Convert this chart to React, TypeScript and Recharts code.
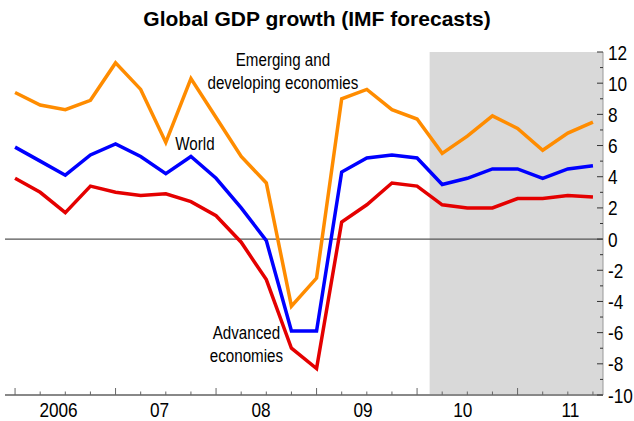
import {
  LineChart,
  Line,
  XAxis,
  YAxis,
  ReferenceArea,
  ReferenceLine,
  ReferenceDot,
} from "recharts";

// Quarterly GDP growth, annualised %, 2006 Q1 - 2011 Q4
const quarters = [
  "06Q1", "06Q2", "06Q3", "06Q4",
  "07Q1", "07Q2", "07Q3", "07Q4",
  "08Q1", "08Q2", "08Q3", "08Q4",
  "09Q1", "09Q2", "09Q3", "09Q4",
  "10Q1", "10Q2", "10Q3", "10Q4",
  "11Q1", "11Q2", "11Q3", "11Q4",
];
const emerging = [
  9.4, 8.6, 8.3, 8.9, 11.3, 9.6, 6.2, 10.3, 7.8, 5.3, 3.6, -4.3,
  -2.5, 9.0, 9.6, 8.3, 7.7, 5.5, 6.6, 7.9, 7.1, 5.7, 6.8, 7.5,
];
const world = [
  5.9, 5.0, 4.1, 5.4, 6.1, 5.3, 4.2, 5.3, 3.9, 2.0, -0.1, -5.9,
  -5.9, 4.3, 5.2, 5.4, 5.2, 3.5, 3.9, 4.5, 4.5, 3.9, 4.5, 4.7,
];
const advanced = [
  3.9, 3.0, 1.7, 3.4, 3.0, 2.8, 2.9, 2.4, 1.5, -0.2, -2.6, -7.0,
  -8.3, 1.1, 2.2, 3.6, 3.4, 2.2, 2.0, 2.0, 2.6, 2.6, 2.8, 2.7,
];

// forecast period starts between 10Q1 and 10Q2
const forecastFrom = 16.5;

const years = ["2006", "07", "08", "09", "10", "11"];
const yearTickAt = [1.73, 5.75, 9.79, 13.85, 17.82, 22.1];
const yTicks = [-10, -9, -8, -7, -6, -5, -4, -3, -2, -1, 0, 1, 2, 3, 4, 5, 6, 7, 8, 9, 10, 11, 12];

const data = quarters.map((q, i) => ({
  i,
  q,
  emerging: emerging[i],
  world: world[i],
  advanced: advanced[i],
}));

const quarterTicks = quarters.map((_, i) => i);

const FONT = "'Liberation Sans', Arial, sans-serif";

function NarrowText({ x, y, size, anchor, children }: any) {
  return (
    <text
      transform={`translate(${x},${y}) scale(0.82,1)`}
      textAnchor={anchor}
      fontFamily={FONT}
      fontSize={size}
      fill="#000"
    >
      {children}
    </text>
  );
}

function XTick({ x, y, payload }: any) {
  const v = payload.value;
  const yi = yearTickAt.indexOf(v);
  if (yi >= 0) {
    return (
      <NarrowText x={x} y={y + 22} size={21} anchor="middle">
        {years[yi]}
      </NarrowText>
    );
  }
  const len = v % 4 === 0 ? 7 : 3.5;
  return <line x1={x} x2={x} y1={y} y2={y - len} stroke="#666" strokeWidth={1} />;
}

function LeftTick({ x, y, payload }: any) {
  const len = payload.value % 2 === 0 ? 7 : 4;
  return <line x1={x} x2={x + len} y1={y} y2={y} stroke="#333" strokeWidth={1} />;
}

function RightTick({ x, y, payload }: any) {
  const even = payload.value % 2 === 0;
  const len = even ? 6 : 3;
  return (
    <g>
      <line x1={x - len} x2={x} y1={y} y2={y} stroke="#333" strokeWidth={1} />
      {even && (
        <NarrowText x={x + 5} y={y + 7.5} size={21} anchor="start">
          {payload.value}
        </NarrowText>
      )}
    </g>
  );
}

// series annotations, anchored at the baseline of the first line
const notes = [
  { lines: ["Emerging and", "developing economies"], x: 10.66, y: 11.1 },
  { lines: ["World"], x: 7.16, y: 5.72 },
  { lines: ["Advanced", "economies"], x: 9.21, y: -6.41 },
];

function noteLabel(lines: string[]) {
  return (props: any) => {
    const vb = props.viewBox;
    const cx = vb.x + vb.width / 2;
    const cy = vb.y + vb.height / 2;
    return (
      <g>
        {lines.map((t, k) => (
          <NarrowText key={t} x={cx} y={cy + k * 23} size={18.5} anchor="middle">
            {t}
          </NarrowText>
        ))}
      </g>
    );
  };
}

export default function App() {
  return (
    <div style={{ position: "absolute", left: 0, top: 0, width: 634, height: 421, background: "#fff" }}>
      <div
        style={{
          position: "absolute",
          left: 0,
          top: 8,
          width: 634,
          textAlign: "center",
          fontFamily: FONT,
          fontWeight: "bold",
          fontSize: 21,
          lineHeight: "21px",
          color: "#000",
        }}
      >
        Global GDP growth (IMF forecasts)
      </div>
      <LineChart
        width={634}
        height={421}
        data={data}
        margin={{ top: 52, right: 0, left: 0, bottom: 0 }}
      >
        <XAxis
          dataKey="i"
          type="number"
          domain={[-0.4, 23.4]}
          ticks={[...quarterTicks, ...yearTickAt]}
          interval={0}
          height={26}
          tickSize={0}
          tickMargin={0}
          axisLine={{ stroke: "#888", strokeWidth: 2 }}
          tickLine={false}
          tick={<XTick />}
        />
        <YAxis
          yAxisId="left"
          orientation="left"
          width={5}
          domain={[-10, 12]}
          ticks={yTicks}
          interval={0}
          tickSize={0}
          tickMargin={0}
          axisLine={false}
          tickLine={false}
          tick={<LeftTick />}
        />
        <YAxis
          yAxisId="right"
          orientation="right"
          width={31}
          domain={[-10, 12]}
          ticks={yTicks}
          interval={0}
          tickSize={0}
          tickMargin={0}
          axisLine={{ stroke: "#999", strokeWidth: 1 }}
          tickLine={false}
          tick={<RightTick />}
        />
        <ReferenceArea
          yAxisId="right"
          x1={forecastFrom}
          x2={23.4}
          y1={-10}
          y2={12}
          fill="#d9d9d9"
          fillOpacity={1}
          stroke="none"
        />
        <ReferenceLine yAxisId="right" y={0} stroke="#555" strokeWidth={1.2} />
        <Line
          yAxisId="right"
          dataKey="emerging"
          type="linear"
          stroke="#ff8c00"
          strokeWidth={3.5}
          dot={false}
          isAnimationActive={false}
        />
        <Line
          yAxisId="right"
          dataKey="world"
          type="linear"
          stroke="#0000ff"
          strokeWidth={3.5}
          dot={false}
          isAnimationActive={false}
        />
        <Line
          yAxisId="right"
          dataKey="advanced"
          type="linear"
          stroke="#e40000"
          strokeWidth={3.5}
          dot={false}
          isAnimationActive={false}
        />
        {notes.map((n) => (
          <ReferenceDot
            key={n.lines[0]}
            yAxisId="right"
            x={n.x}
            y={n.y}
            r={1}
            fill="none"
            stroke="none"
            label={noteLabel(n.lines)}
          />
        ))}
      </LineChart>
    </div>
  );
}
